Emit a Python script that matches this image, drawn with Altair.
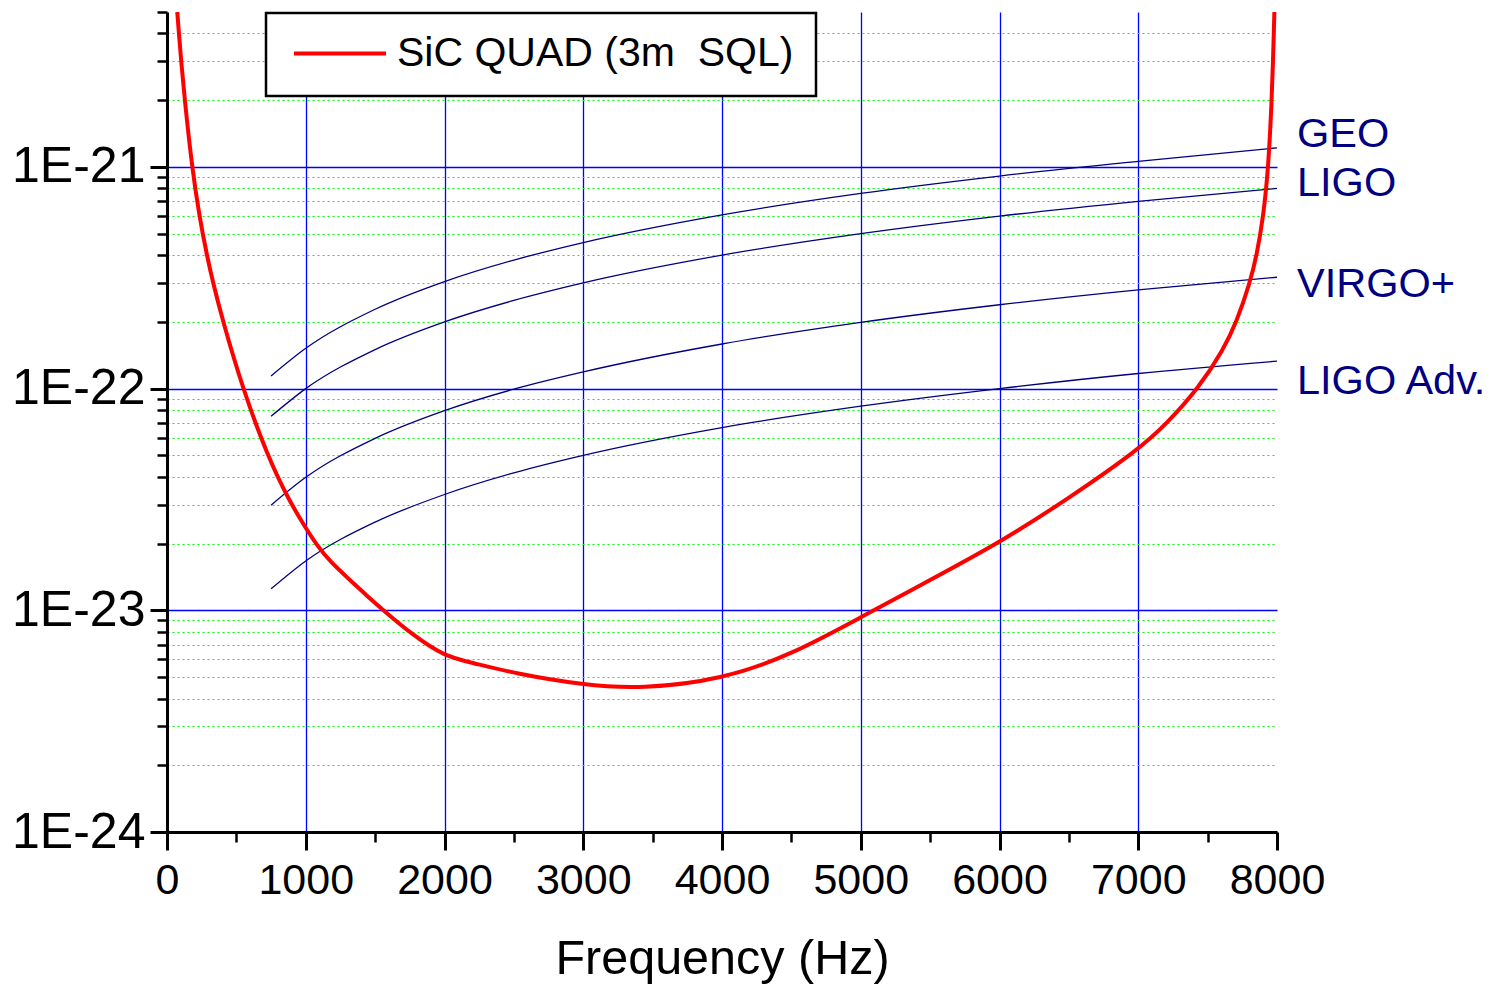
import altair as alt
import pandas as pd

# ---------------- data ----------------
sic_f = [74, 86, 102, 128, 180, 233, 287, 332, 404, 546, 724, 877, 1000, 1080,
         1178, 1319, 1436, 1560, 1771, 2000, 2200, 2500, 3000, 3420, 4000, 4500, 5000,
         5500, 6000, 6500, 7000, 7200, 7433, 7614, 7709, 7805, 7854, 7902,
         7938, 7962, 7971, 7977, 7981]
sic_h = [5e-21, 4e-21, 3e-21, 2e-21, 1e-21, 6e-22, 4e-22, 3e-22, 2e-22, 1e-22,
         4.97e-23, 3.15e-23, 2.35e-23, 1.97e-23, 1.65e-23, 1.37e-23, 1.17e-23,
         1e-23, 7.74e-24, 6.2e-24, 5.8e-24, 5.2e-24, 4.6e-24, 4.42e-24, 4.87e-24, 6.3e-24,
         9.3e-24, 1.37e-23, 2.02e-23, 3.2e-23, 5.3e-23, 6.9e-23, 1e-22, 1.5e-22,
         2e-22, 3e-22, 4e-22, 6e-22, 1e-21, 2e-21, 3e-21, 4e-21, 5e-21]

det_f = [750, 1000, 1500, 2000, 2500, 3000, 4000, 5000, 6000, 7000, 8000]
geo_h = [1.14e-22, 1.52e-22, 2.28e-22, 3.04e-22, 3.8e-22, 4.56e-22, 6.08e-22,
         7.6e-22, 9.1e-22, 1.06e-21, 1.22e-21]
ligo_h = [7.5e-23, 1.0e-22, 1.5e-22, 2.0e-22, 2.5e-22, 3.0e-22, 4.0e-22,
          5.0e-22, 6.0e-22, 7.0e-22, 8.0e-22]
virgo_h = [2.98e-23, 3.98e-23, 5.97e-23, 7.96e-23, 9.95e-23, 1.19e-22, 1.59e-22,
           1.99e-22, 2.39e-22, 2.79e-22, 3.18e-22]
ligoadv_h = [1.25e-23, 1.67e-23, 2.5e-23, 3.33e-23, 4.17e-23, 5.0e-23, 6.67e-23,
             8.33e-23, 1.0e-22, 1.17e-22, 1.33e-22]

det_names = ["GEO", "LIGO", "VIRGO+", "LIGO Adv."]
det_label_h = [1.40e-21, 8.34e-22, 2.94e-22, 1.07e-22]
label_f = 8000

series_name = "SiC QUAD (3m\u00a0 SQL)\u00a0"

x_ticks = list(range(0, 8001, 500))
y_decades = [1e-24, 1e-23, 1e-22, 1e-21]
y_mult = [1, 2, 3, 4, 5, 6, 7, 8, 9]

# ---------------- tables ----------------
y_ticks = []
for d in y_decades:
    for m in y_mult:
        v = m * d
        if v <= 5.0001e-21:
            y_ticks.append(v)

sic_df = pd.DataFrame({"f": sic_f, "h": sic_h, "series": series_name})
det_rows = []
for name, hs in zip(det_names, [geo_h, ligo_h, virgo_h, ligoadv_h]):
    for f, h in zip(det_f, hs):
        det_rows.append({"f": f, "h": h, "det": name})
det_df = pd.DataFrame(det_rows)
lab_df = pd.DataFrame({"f": [label_f] * 4, "h": det_label_h, "det": det_names})

FONT = "Liberation Sans"
is_decade = "abs(log(datum.value)/LN10 - round(log(datum.value)/LN10)) < 0.001"
is_kx = "datum.value % 1000 == 0"

x_axis = alt.Axis(
    values=x_ticks,
    labelExpr="datum.value % 1000 == 0 ? datum.label : ''",
    format="d",
    title="Frequency (Hz)",
    titleFont=FONT, titleFontSize=48.5, titleFontWeight="normal", titleColor="black",
    titlePadding=33,
    labelFont=FONT, labelFontSize=43, labelColor="black", labelPadding=9,
    labelOverlap=False, labelFlush=False,
    domainColor="black", domainWidth=3,
    tickColor="black",
    tickSize={"condition": {"test": is_kx, "value": 18}, "value": 10},
    tickWidth={"condition": {"test": is_kx, "value": 3}, "value": 2.5},
    grid=True, gridColor="#0000ff", gridWidth=1.3,
    gridOpacity={"condition": {"test": is_kx + " && datum.value > 0 && datum.value < 8000",
                               "value": 1}, "value": 0},
)
y_axis = alt.Axis(
    values=y_ticks,
    labelExpr=is_decade + " ? '1E' + round(log(datum.value)/LN10) : ''",
    title=None,
    labelFont=FONT, labelFontSize=50, labelColor="black", labelPadding=5,
    labelOverlap=False, labelFlush=False,
    domainColor="black", domainWidth=3,
    tickColor="black",
    tickSize={"condition": {"test": is_decade, "value": 17}, "value": 10},
    tickWidth={"condition": {"test": is_decade, "value": 3}, "value": 2.5},
    grid=True,
    gridColor={"condition": {"test": is_decade, "value": "#0000ff"}, "value": "#00ff00"},
    gridDash={"condition": {"test": is_decade, "value": []}, "value": [2, 3]},
    gridWidth={"condition": {"test": is_decade, "value": 1.3}, "value": 1.2},
    gridOpacity={"condition": {"test": "datum.value > 4.5e-21", "value": 0}, "value": 1},
)

x_enc = alt.X("f:Q", scale=alt.Scale(domain=[0, 8000], nice=False, zero=False), axis=x_axis)
y_enc = alt.Y("h:Q", scale=alt.Scale(type="log", domain=[1e-24, 5e-21], nice=False), axis=y_axis)

det_lines = alt.Chart(det_df).mark_line(
    color="#000080", strokeWidth=1.3, interpolate="monotone"
).encode(x=x_enc, y=y_enc, detail="det:N")

sic_line = alt.Chart(sic_df).mark_line(
    strokeWidth=4, interpolate="basis", clip=True
).encode(
    x=x_enc, y=y_enc,
    color=alt.Color(
        "series:N",
        scale=alt.Scale(domain=[series_name], range=["#ff0000"]),
        legend=alt.Legend(
            title=None, orient="none", legendX=99, legendY=1,
            strokeColor="black", fillColor="white", padding=22,
            symbolType="stroke", symbolSize=8464, symbolStrokeWidth=4,
            symbolOffset=4, clipHeight=37,
            labelFont=FONT, labelFontSize=41, labelColor="black",
            labelOffset=9, labelLimit=0,
        ),
    ),
)

labels = alt.Chart(lab_df).mark_text(
    align="left", baseline="middle", dx=20, font=FONT, fontSize=41.5, color="#000080"
).encode(x=x_enc, y=y_enc, text="det:N")

chart = alt.layer(det_lines, sic_line, labels).properties(
    width=1110, height=820,
    autosize=alt.AutoSizeParams(type="none"),
    padding={"left": 167, "top": 12, "right": 217, "bottom": 158},
).configure_view(stroke=None).configure_legend(strokeWidth=2.5)

chart.save("out.html", embed_options={"renderer": "svg", "actions": False})
